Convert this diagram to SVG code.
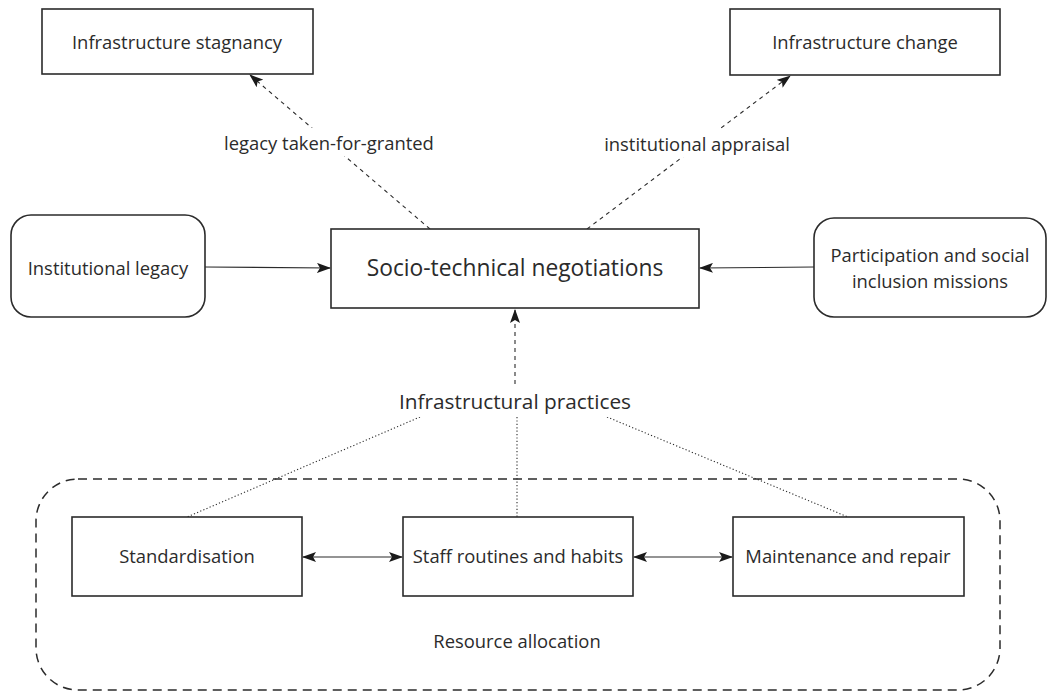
<svg xmlns="http://www.w3.org/2000/svg" width="1056" height="693" viewBox="0 0 1056 693">
<style>
.box{fill:#fff;stroke:#2b2b2b;stroke-width:1.6}
.t{font-family:"Open Sans","Noto Sans",sans-serif;font-size:18.4px;fill:#2b2b2b;text-anchor:middle;dominant-baseline:central}
.big{font-size:22.8px}
.c{fill:none;stroke:#2b2b2b;stroke-width:1.1}
.dash{stroke-dasharray:4 4}
.dot{stroke-dasharray:1.2 2.2}
.bg{fill:#fff}
</style>
<defs>
<marker id="ah" markerWidth="14" markerHeight="10" refX="13" refY="5" orient="auto" markerUnits="userSpaceOnUse">
<path d="M0,0 L14,5 L0,10 L3,5 Z" fill="#1a1a1a"/>
</marker>
<marker id="ahs" markerWidth="14" markerHeight="10" refX="1" refY="5" orient="auto" markerUnits="userSpaceOnUse">
<path d="M14,0 L0,5 L14,10 L11,5 Z" fill="#1a1a1a"/>
</marker>
</defs>
<g id="container">
<rect x="36" y="479" width="964" height="211" rx="42" fill="none" stroke="#2b2b2b" stroke-width="1.5" stroke-dasharray="9 6"/>
<text class="t" x="517" y="640">Resource allocation</text>
</g>
<g id="connectors">
<line class="c dash" x1="430" y1="229" x2="250" y2="75" marker-end="url(#ah)"/>
<line class="c dash" x1="587" y1="229" x2="790" y2="76" marker-end="url(#ah)"/>
<line class="c" x1="205" y1="267" x2="330" y2="268" marker-end="url(#ah)"/>
<line class="c" x1="814" y1="267" x2="700" y2="268" marker-end="url(#ah)"/>
<line class="c dash" x1="515" y1="400" x2="515" y2="310" marker-end="url(#ah)"/>
<line class="c dot" x1="517" y1="400" x2="517" y2="517"/>
<line class="c dot" x1="420" y1="417" x2="187" y2="517"/>
<line class="c dot" x1="607" y1="417" x2="848" y2="517"/>
<line class="c" x1="303" y1="557" x2="402" y2="557" stroke-width="1.4" marker-start="url(#ahs)" marker-end="url(#ah)"/>
<line class="c" x1="634" y1="557" x2="732" y2="557" stroke-width="1.4" marker-start="url(#ahs)" marker-end="url(#ah)"/>
<rect class="bg" x="218" y="128" width="222" height="28"/>
<rect class="bg" x="598" y="129" width="198" height="28"/>
<rect class="bg" x="396" y="386" width="238" height="31"/>
<text class="t" x="329" y="142">legacy taken-for-granted</text>
<text class="t" x="697" y="143">institutional appraisal</text>
<text class="t" x="515" y="401" style="font-size:20.8px">Infrastructural practices</text>
</g>
<g id="stagnancy">
<rect class="box" x="42" y="9" width="271" height="65"/>
<text class="t" x="177" y="41">Infrastructure stagnancy</text>
</g>
<g id="change">
<rect class="box" x="730" y="9" width="270" height="66"/>
<text class="t" x="865" y="41">Infrastructure change</text>
</g>
<g id="legacy">
<rect class="box" x="11" y="215" width="194" height="102" rx="20"/>
<text class="t" x="108" y="267">Institutional legacy</text>
</g>
<g id="negotiations">
<rect class="box" x="331" y="229" width="368" height="79"/>
<text class="t big" x="515" y="267">Socio-technical negotiations</text>
</g>
<g id="participation">
<rect class="box" x="814" y="218" width="232" height="99" rx="20"/>
<text class="t" x="930" y="254">Participation and social</text>
<text class="t" x="930" y="280">inclusion missions</text>
</g>
<g id="standardisation">
<rect class="box" x="72" y="517" width="230" height="79"/>
<text class="t" x="187" y="555">Standardisation</text>
</g>
<g id="routines">
<rect class="box" x="403" y="517" width="230" height="79"/>
<text class="t" x="518" y="555">Staff routines and habits</text>
</g>
<g id="maintenance">
<rect class="box" x="733" y="517" width="231" height="79"/>
<text class="t" x="848" y="555">Maintenance and repair</text>
</g>
</svg>
